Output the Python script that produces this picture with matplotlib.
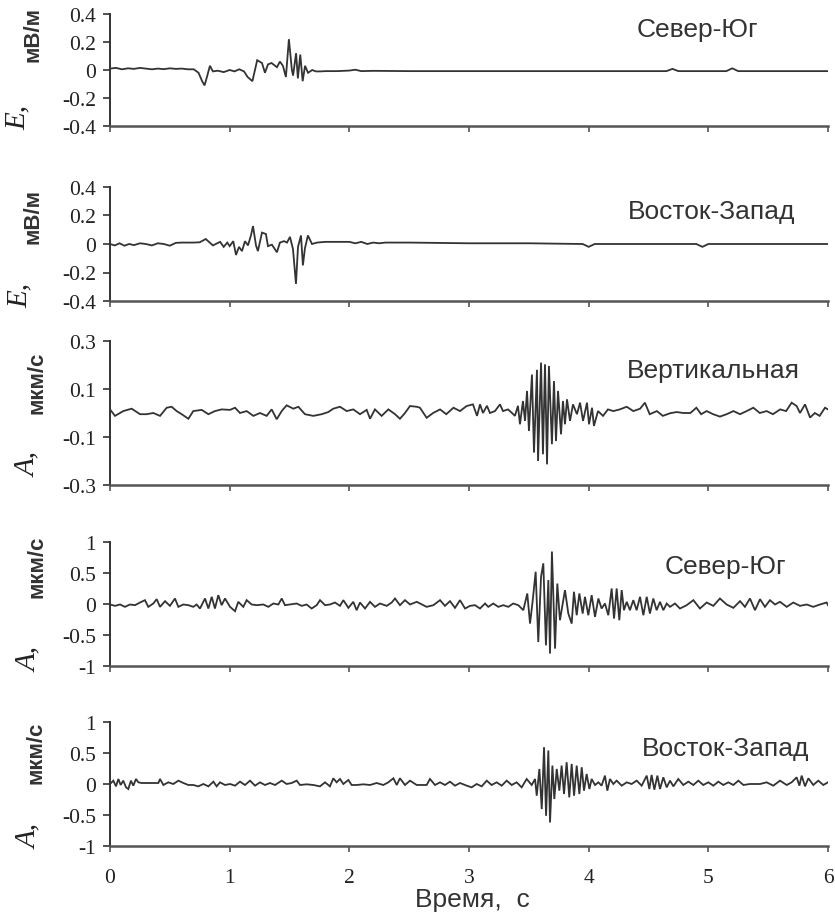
import matplotlib
matplotlib.use('Agg')
import matplotlib.pyplot as plt

# ---------------- data (time in s, amplitude) ----------------
t1 = [0, 0.05, 0.1, 0.15, 0.2, 0.25, 0.3, 0.35, 0.4, 0.45, 0.5, 0.55, 0.6, 0.65, 0.7,
      0.74, 0.77, 0.79, 0.81, 0.835, 0.86, 0.9, 0.95, 1.0, 1.04,
      1.08, 1.12, 1.15, 1.19, 1.23, 1.27, 1.295, 1.32, 1.35, 1.395,
      1.42, 1.445, 1.47, 1.495, 1.52, 1.53, 1.555, 1.57, 1.59, 1.61,
      1.63, 1.655, 1.69, 1.72, 1.76, 1.8, 1.9, 2.0, 2.05, 2.1,
      2.2, 2.5, 3.0, 3.5, 4.0, 4.5, 4.65, 4.7, 4.75, 5.0,
      5.15, 5.2, 5.25, 5.5, 6.0]
v1 = [0.01, 0.015, 0.005, 0.012, 0.008, 0.015, 0.01, 0.005, 0.01, 0.006, 0.012, 0.008, 0.01, 0.005, 0.005,
      -0.02, -0.08, -0.11, -0.05, 0.03, -0.01, -0.005, -0.015, 0.0, -0.01,
      0.005, -0.01, -0.05, -0.08, 0.07, 0.05, -0.02, 0.04, 0.05, 0.02,
      0.06, 0.03, -0.05, 0.22, 0.0, -0.04, 0.12, -0.06, 0.11, -0.08,
      0.03, -0.02, 0.0, -0.01, -0.01, -0.008, -0.008, -0.004, 0.002, -0.008,
      -0.006, -0.008, -0.008, -0.008, -0.008, -0.008, -0.008, 0.008, -0.008, -0.008,
      -0.008, 0.012, -0.008, -0.008, -0.008]

t2 = [0, 0.04, 0.08, 0.12, 0.16, 0.2, 0.25, 0.3, 0.35, 0.4,
      0.45, 0.5, 0.55, 0.6, 0.65, 0.7, 0.75, 0.8, 0.86, 0.92,
      0.95, 0.98, 1.0, 1.03, 1.053, 1.078, 1.103, 1.128, 1.153, 1.178,
      1.195, 1.22, 1.236, 1.27, 1.303, 1.32, 1.353, 1.395, 1.42, 1.454,
      1.479, 1.504, 1.529, 1.554, 1.571, 1.596, 1.612, 1.629, 1.654, 1.688,
      1.73, 1.8, 2.0, 2.05, 2.1, 2.15, 2.2, 2.25, 2.3, 2.5,
      3.0, 3.5, 3.95, 4.0, 4.05, 4.5, 4.9, 4.95, 5.0, 5.5, 6.0]
v2 = [0.0, -0.01, 0.005, -0.012, 0.0, -0.008, 0.005, 0.0, -0.01, 0.005,
      0.0, -0.012, 0.008, 0.01, 0.01, 0.01, 0.012, 0.035, -0.01, 0.015,
      -0.02, 0.01, -0.015, 0.02, -0.077, -0.02, -0.05, 0.02, -0.01, 0.06,
      0.126, -0.01, -0.05, 0.08, 0.07, -0.015, -0.005, -0.058, 0.01, 0.02,
      0.01, 0.05, -0.035, -0.28, -0.02, 0.06, -0.15, -0.03, 0.06, 0.0,
      0.01, 0.015, 0.015, 0.005, 0.015, 0.0, 0.01, 0.005, 0.01, 0.01,
      0.005, 0.005, 0.0, -0.02, 0.0, 0.0, 0.0, -0.02, 0.0, 0.0, 0.0]

t3 = [0.0, 0.042, 0.111, 0.181, 0.251, 0.306, 0.362, 0.418, 0.474, 0.515,
      0.557, 0.599, 0.655, 0.696, 0.766, 0.822, 0.877, 0.933, 1.003, 1.045,
      1.086, 1.142, 1.198, 1.253, 1.309, 1.351, 1.393, 1.435, 1.476, 1.532,
      1.574, 1.629, 1.699, 1.769, 1.824, 1.866, 1.922, 1.978, 2.033, 2.089,
      2.145, 2.173, 2.214, 2.270, 2.326, 2.382, 2.423, 2.465, 2.507, 2.563,
      2.59, 2.646, 2.70, 2.758, 2.81, 2.87, 2.925, 2.98, 3.033, 3.067,
      3.092, 3.117, 3.150, 3.175, 3.217, 3.259, 3.284, 3.326, 3.359, 3.384,
      3.409, 3.426, 3.451, 3.468, 3.485, 3.501, 3.526, 3.543, 3.568, 3.577,
      3.602, 3.618, 3.635, 3.652, 3.668, 3.693, 3.710, 3.727, 3.744, 3.769,
      3.785, 3.802, 3.819, 3.844, 3.869, 3.902, 3.928, 3.953, 3.986, 4.003,
      4.028, 4.044, 4.078, 4.12, 4.161, 4.206, 4.26, 4.318, 4.373, 4.43,
      4.47, 4.51, 4.57, 4.62, 4.68, 4.735, 4.79, 4.85, 4.90, 4.94,
      4.986, 5.04, 5.097, 5.153, 5.21, 5.265, 5.32, 5.376, 5.43, 5.487,
      5.54, 5.60, 5.65, 5.696, 5.738, 5.766, 5.808, 5.85, 5.89, 5.93,
      5.975, 6.0]
v3 = [0.015, -0.012, 0.008, 0.018, -0.005, -0.005, 0.0, -0.012, 0.022, 0.026,
      0.008, -0.005, -0.024, 0.008, 0.013, -0.005, 0.008, 0.015, 0.013, 0.022,
      0.0, 0.008, -0.012, 0.0, -0.012, 0.015, -0.026, 0.008, 0.032, 0.018,
      0.026, -0.005, -0.012, -0.005, 0.004, 0.018, 0.026, 0.008, 0.015, -0.005,
      0.013, -0.024, 0.015, -0.012, 0.015, -0.005, -0.024, 0.0, 0.029, 0.026,
      0.022, -0.02, 0.0, 0.015, -0.005, 0.022, 0.008, 0.029, 0.036, -0.012,
      0.036, 0.0, 0.03, 0.0, 0.008, 0.036, 0.008, 0.015, 0.0, -0.012,
      0.03, -0.047, 0.05, -0.033, 0.092, -0.075, 0.16, -0.165, 0.18, -0.2,
      0.21, -0.172, 0.203, -0.214, 0.196, -0.13, 0.133, -0.117, 0.092, -0.089,
      0.05, -0.047, 0.057, -0.033, 0.036, -0.005, 0.043, -0.033, 0.043, -0.047,
      0.022, -0.054, 0.008, -0.012, 0.015, 0.008, 0.015, 0.026, 0.008, 0.018,
      0.043, -0.005, 0.008, -0.012, -0.001, 0.004, 0.0, 0.0, 0.022, -0.005,
      0.008, -0.005, -0.015, -0.005, 0.008, -0.005, 0.008, 0.022, 0.0, 0.008,
      -0.005, 0.015, 0.008, 0.043, 0.029, 0.0, 0.036, -0.019, 0.0, -0.012,
      0.022, 0.015]

t4 = [0.0, 0.042, 0.084, 0.125, 0.167, 0.209, 0.251, 0.292, 0.320, 0.362,
      0.390, 0.418, 0.460, 0.501, 0.543, 0.571, 0.613, 0.655, 0.696, 0.724,
      0.752, 0.794, 0.822, 0.850, 0.877, 0.905, 0.933, 0.961, 1.003, 1.045,
      1.072, 1.114, 1.142, 1.184, 1.226, 1.281, 1.323, 1.365, 1.407, 1.435,
      1.462, 1.504, 1.560, 1.602, 1.643, 1.685, 1.727, 1.755, 1.797, 1.838,
      1.880, 1.922, 1.950, 1.992, 2.033, 2.061, 2.089, 2.131, 2.173, 2.214,
      2.256, 2.312, 2.354, 2.382, 2.423, 2.465, 2.507, 2.563, 2.590, 2.646,
      2.702, 2.758, 2.799, 2.841, 2.883, 2.925, 2.967, 3.008, 3.050, 3.092,
      3.134, 3.161, 3.203, 3.245, 3.287, 3.328, 3.370, 3.412, 3.454, 3.487,
      3.510, 3.532, 3.557, 3.579, 3.602, 3.621, 3.643, 3.663, 3.677, 3.693,
      3.719, 3.738, 3.760, 3.802, 3.830, 3.858, 3.877, 3.900, 3.922, 3.950,
      3.969, 3.997, 4.025, 4.053, 4.081, 4.108, 4.136, 4.164, 4.192, 4.212,
      4.234, 4.256, 4.276, 4.295, 4.318, 4.345, 4.373, 4.401, 4.429, 4.457,
      4.485, 4.512, 4.540, 4.568, 4.596, 4.624, 4.652, 4.680, 4.721, 4.763,
      4.819, 4.875, 4.930, 4.986, 5.042, 5.097, 5.153, 5.209, 5.265, 5.306,
      5.348, 5.390, 5.432, 5.473, 5.515, 5.557, 5.599, 5.655, 5.710, 5.766,
      5.822, 5.877, 5.933, 5.989, 6.0]
v4 = [-0.008, -0.03, -0.008, -0.046, -0.008, -0.019, 0.024, 0.062, -0.046, 0.008,
      0.078, -0.046, 0.046, -0.03, 0.089, -0.046, -0.008, -0.019, -0.046, -0.008,
      -0.073, 0.089, -0.073, 0.116, -0.073, 0.143, -0.019, 0.089, -0.046, -0.116,
      0.035, -0.046, 0.062, -0.008, -0.019, -0.008, -0.046, 0.008, -0.008, 0.089,
      -0.019, -0.008, 0.008, -0.03, -0.008, -0.073, -0.019, 0.062, -0.019, -0.008,
      0.024, -0.03, 0.062, -0.062, 0.035, -0.1, 0.024, -0.073, 0.035, -0.046,
      0.008, -0.03, 0.024, 0.089, -0.019, 0.062, -0.008, 0.035, 0.008, -0.046,
      -0.019, 0.062, -0.03, 0.046, -0.062, 0.062, -0.073, -0.03, -0.019, -0.073,
      0.008, -0.046, 0.008, -0.046, -0.019, -0.046, 0.008, -0.019, -0.1, 0.17,
      -0.316, 0.05, 0.52, -0.613, 0.44, 0.656, -0.667, 0.386, -0.8, 0.846,
      -0.72, 0.33, -0.262, 0.224, -0.154, -0.316, 0.197, -0.181, 0.17, -0.154,
      0.116, -0.181, 0.143, -0.208, 0.089, -0.073, 0.008, -0.181, 0.25, -0.235,
      0.25, -0.262, 0.224, -0.1, 0.035, -0.1, 0.062, -0.1, 0.116, -0.181,
      0.116, -0.154, 0.089, -0.1, 0.035, -0.1, 0.008, -0.046, 0.008, -0.073,
      -0.019, 0.062, -0.073, 0.024, -0.03, 0.089, -0.008, -0.062, 0.046, -0.046,
      0.089, -0.1, 0.078, -0.046, 0.062, -0.008, 0.035, -0.046, 0.024, -0.03,
      -0.008, -0.046, -0.008, 0.024, -0.019]

t5 = [0.0, 0.028, 0.050, 0.070, 0.089, 0.111, 0.134, 0.153, 0.175, 0.195,
      0.217, 0.237, 0.265, 0.404, 0.418, 0.446, 0.487, 0.529, 0.571, 0.613,
      0.655, 0.696, 0.738, 0.780, 0.822, 0.864, 0.891, 0.919, 0.961, 1.003,
      1.045, 1.086, 1.128, 1.170, 1.212, 1.253, 1.295, 1.337, 1.379, 1.435,
      1.476, 1.518, 1.560, 1.588, 1.643, 1.699, 1.755, 1.797, 1.838, 1.866,
      1.894, 1.922, 1.950, 1.992, 2.019, 2.061, 2.117, 2.173, 2.228, 2.284,
      2.326, 2.368, 2.396, 2.423, 2.465, 2.507, 2.563, 2.646, 2.674, 2.716,
      2.758, 2.799, 2.841, 2.883, 2.925, 2.981, 3.022, 3.064, 3.106, 3.148,
      3.189, 3.231, 3.273, 3.315, 3.357, 3.398, 3.440, 3.482, 3.524, 3.552,
      3.566, 3.588, 3.608, 3.627, 3.644, 3.663, 3.677, 3.697, 3.713, 3.733,
      3.755, 3.774, 3.794, 3.816, 3.838, 3.858, 3.878, 3.900, 3.922, 3.942,
      3.961, 3.983, 4.006, 4.025, 4.053, 4.081, 4.108, 4.136, 4.156, 4.178,
      4.206, 4.234, 4.276, 4.318, 4.359, 4.401, 4.443, 4.485, 4.507, 4.526,
      4.549, 4.574, 4.596, 4.624, 4.652, 4.680, 4.708, 4.749, 4.791, 4.833,
      4.875, 4.916, 4.958, 5.000, 5.042, 5.084, 5.125, 5.167, 5.209, 5.251,
      5.293, 5.348, 5.432, 5.487, 5.543, 5.599, 5.655, 5.696, 5.738, 5.761,
      5.780, 5.808, 5.836, 5.877, 5.919, 5.961, 6.0]
v5 = [0.0, 0.054, -0.038, 0.081, -0.016, 0.054, -0.054, -0.081, 0.054, -0.027,
      0.081, 0.027, 0.016, 0.016, 0.081, -0.016, 0.027, 0.0, 0.054, 0.016,
      -0.016, -0.016, -0.038, 0.0, -0.038, 0.038, -0.038, 0.027, -0.016, 0.0,
      -0.027, 0.038, -0.016, 0.054, -0.027, 0.027, -0.016, 0.016, -0.016, 0.054,
      0.0, 0.016, 0.054, -0.016, -0.005, -0.016, -0.038, 0.027, -0.038, 0.092,
      0.027, 0.081, 0.0, 0.065, -0.016, -0.016, -0.005, -0.016, 0.016, -0.016,
      0.027, 0.092, -0.016, 0.092, -0.016, 0.054, -0.016, -0.016, 0.081, -0.016,
      0.027, -0.016, 0.038, -0.027, 0.016, -0.027, -0.054, 0.0, -0.038, 0.054,
      -0.016, 0.027, -0.027, 0.054, -0.016, 0.027, -0.054, 0.081, -0.016, 0.081,
      -0.189, 0.243, -0.405, 0.594, -0.513, 0.54, -0.621, 0.297, -0.243, 0.243,
      -0.108, 0.297, -0.162, 0.351, -0.216, 0.324, -0.189, 0.297, -0.162, 0.27,
      -0.108, 0.162, -0.081, 0.081, -0.016, 0.027, -0.027, 0.135, -0.108, 0.081,
      0.0, 0.054, -0.027, 0.027, 0.0, 0.054, -0.027, 0.135, -0.081, 0.146,
      -0.092, 0.135, -0.081, 0.108, -0.054, 0.054, -0.038, 0.081, -0.016, 0.038,
      -0.016, 0.054, -0.016, 0.027, -0.027, 0.038, -0.016, 0.027, -0.016, 0.054,
      -0.016, 0.0, 0.0, 0.027, -0.027, 0.054, -0.016, 0.027, 0.108, -0.027,
      0.135, -0.038, 0.092, -0.016, 0.054, -0.016, 0.027]

titles = ['Север-Юг', 'Восток-Запад', 'Вертикальная', 'Север-Юг', 'Восток-Запад']
symbols = ['E,', 'E,', 'A,', 'A,', 'A,']
units = ['мВ/м', 'мВ/м', 'мкм/с', 'мкм/с', 'мкм/с']
yticks_list = [[-0.4, -0.2, 0, 0.2, 0.4], [-0.4, -0.2, 0, 0.2, 0.4],
               [-0.3, -0.1, 0.1, 0.3], [-1, -0.5, 0, 0.5, 1], [-1, -0.5, 0, 0.5, 1]]
ytick_labels = [['-0.4', '-0.2', '0', '0.2', '0.4'], ['-0.4', '-0.2', '0', '0.2', '0.4'],
                ['-0.3', '-0.1', '0.1', '0.3'], ['-1', '-0.5', '0', '0.5', '1'],
                ['-1', '-0.5', '0', '0.5', '1']]
xticks = [0, 1, 2, 3, 4, 5, 6]
xlabel = 'Время,  с'

series = [(t1, v1), (t2, v2), (t3, v3), (t4, v4), (t5, v5)]

# ---------------- layout (pixels) ----------------
W, H = 835, 920
fig = plt.figure(figsize=(W / 100, H / 100), dpi=100)

LEFT, RIGHT = 110, 828
tops = [15, 188, 342, 543, 723]
bots = [127, 302, 486, 667, 847]
title_pos = [(637, 30), (628, 212), (627, 371), (665, 567), (642, 749)]
sym_pos = [(18, 118), (20, 295), (28, 465), (29, 660), (29, 837)]
unit_pos = [(33, 35), (33, 217), (37, 383), (37, 567), (36, 753)]

INK = '#333333'
serif = ['Liberation Serif', 'DejaVu Serif']
sans = ['Liberation Sans', 'DejaVu Sans']

for i, (t, v) in enumerate(series):
    ax = fig.add_axes([LEFT / W, 1 - bots[i] / H, (RIGHT - LEFT) / W, (bots[i] - tops[i]) / H])
    ax.plot(t, v, color=INK, lw=1.3, solid_joinstyle='miter')
    ax.set_xlim(0, 6)
    yt = yticks_list[i]
    ax.set_ylim(yt[0], yt[-1])
    ax.set_yticks(yt)
    ax.set_yticklabels(ytick_labels[i], fontfamily=serif, fontsize=15.5, color='#222222')
    ax.set_xticks(xticks)
    if i == 4:
        ax.set_xticklabels([str(x) for x in xticks], fontfamily=serif, fontsize=15.5, color='#222222')
        ax.tick_params(axis='x', pad=11)
    else:
        ax.set_xticklabels([])
    for s in ('top', 'right'):
        ax.spines[s].set_visible(False)
    ax.spines['left'].set_color(INK)
    ax.spines['left'].set_linewidth(1.4)
    ax.spines['bottom'].set_color('#555555')
    ax.spines['bottom'].set_linewidth(1.8)
    ax.tick_params(axis='y', direction='out', length=5, width=1.2, color=INK, pad=5)
    ax.tick_params(axis='x', direction='out', length=4.5, width=1.2, color='#555555')
    ax.patch.set_alpha(0)

    tx, ty = title_pos[i]
    fig.text(tx / W, 1 - ty / H, titles[i], fontfamily=sans, fontsize=19,
             color='#333333', ha='left', va='center')
    sx, sy = sym_pos[i]
    fig.text(sx / W, 1 - sy / H, symbols[i], fontfamily=serif, fontstyle='italic',
             fontsize=21, color='#222222', rotation=90, ha='center', va='center')
    ux, uy = unit_pos[i]
    fig.text(ux / W, 1 - uy / H, units[i], fontfamily=sans, fontweight='bold',
             fontsize=16, color='#333333', rotation=90, ha='center', va='center')

fig.text(415 / W, 1 - 900 / H, xlabel, fontfamily=sans, fontsize=19,
         color='#333333', ha='left', va='center')

fig.savefig('out.png', dpi=100)
